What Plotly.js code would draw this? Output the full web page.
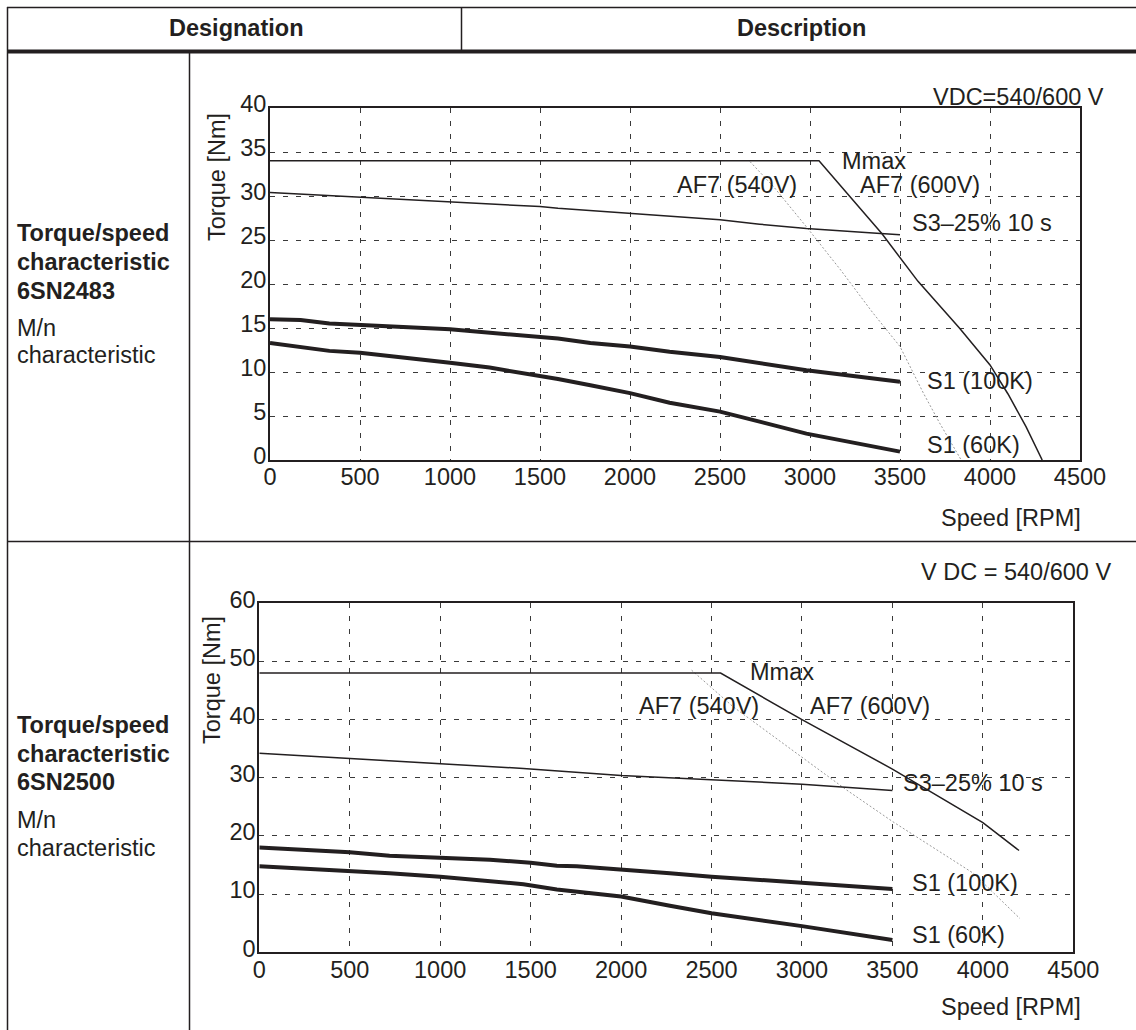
<!DOCTYPE html>
<html>
<head>
<meta charset="utf-8">
<script src="https://cdn.plot.ly/plotly-3.0.1.min.js"></script>
<style>
  html, body { margin: 0; padding: 0; background: #fff; }
  #chart { width: 1136px; height: 1030px; }
</style>
</head>
<body>
<div id="chart"></div>
<script>
// ---------- Data: 6SN2483 (top chart) ----------
const xTicks = [0, 500, 1000, 1500, 2000, 2500, 3000, 3500, 4000, 4500];

const c1_mmax_rpm    = [0, 3050, 3400, 3600, 3830, 4000, 4100, 4200, 4290];
const c1_mmax_torque = [34, 34, 25.7, 20.3, 15.0, 10.8, 7.5, 3.8, 0];

const c1_af540_rpm    = [2667, 2800, 2980, 3170, 3350, 3500, 3630, 3720, 3840];
const c1_af540_torque = [33.9, 31.0, 26.5, 21.6, 16.7, 12.9, 7.6, 4.2, 0];

const c1_s3_rpm    = [0, 500, 1000, 1300, 1500, 1600, 2000, 2220, 2500, 2720, 2980, 3350, 3500];
const c1_s3_torque = [30.4, 29.85, 29.35, 29.0, 28.8, 28.6, 28.0, 27.65, 27.3, 26.8, 26.3, 25.8, 25.6];

const c1_s1_100_rpm    = [0, 170, 330, 500, 740, 1000, 1220, 1500, 1600, 1780, 2000, 2220, 2500, 2980, 3500];
const c1_s1_100_torque = [16.0, 15.9, 15.5, 15.3, 15.1, 14.85, 14.5, 14.0, 13.8, 13.3, 12.9, 12.3, 11.7, 10.2, 8.9];

const c1_s1_60_rpm    = [0, 330, 500, 740, 1000, 1220, 1400, 1500, 1600, 1780, 2000, 2220, 2500, 2980, 3500];
const c1_s1_60_torque = [13.3, 12.4, 12.2, 11.7, 11.05, 10.5, 9.9, 9.5, 9.2, 8.5, 7.6, 6.5, 5.5, 3.0, 0.95];

// ---------- Data: 6SN2500 (bottom chart) ----------
const c2_mmax_rpm    = [0, 2550, 3000, 3500, 4000, 4200];
const c2_mmax_torque = [48, 48, 40, 31.5, 22.3, 17.5];

const c2_af540_rpm    = [2390, 2620, 3247, 3500, 3947, 4205];
const c2_af540_torque = [48.5, 42.2, 27.9, 22.5, 13.6, 5.8];

const c2_s3_rpm    = [0, 500, 1000, 1460, 2000, 2500, 3000, 3500];
const c2_s3_torque = [34.2, 33.3, 32.3, 31.6, 30.4, 29.6, 28.9, 27.8];

const c2_s1_100_rpm    = [0, 170, 500, 720, 1000, 1275, 1500, 1645, 1755, 2000, 2270, 2500, 3000, 3500];
const c2_s1_100_torque = [18.0, 17.7, 17.2, 16.6, 16.3, 15.9, 15.4, 14.9, 14.8, 14.3, 13.6, 13.0, 12.0, 10.9];

const c2_s1_60_rpm    = [0, 500, 720, 1000, 1275, 1460, 1645, 1830, 2000, 2270, 2500, 3000, 3500];
const c2_s1_60_torque = [14.8, 14.0, 13.6, 13.0, 12.15, 11.7, 10.8, 10.1, 9.6, 8.0, 6.7, 4.5, 2.1];

// ---------- Layout helpers ----------
const W = 1136, H = 1030;
const px = x => x / W;
const py = y => 1 - y / H;
const INK = '#231f20';
const FONT = 'Liberation Sans, Arial, Helvetica, sans-serif';
const FS = 23.5;

function line(x, y, xa, ya, width, dash, color) {
  return { x: x, y: y, xaxis: xa, yaxis: ya, mode: 'lines', type: 'scatter',
           line: { color: color || INK, width: width, dash: dash || 'solid' },
           hoverinfo: 'skip', showlegend: false };
}

const traces = [
  line(c1_af540_rpm, c1_af540_torque, 'x', 'y', 1, '2px,2px', '#9a9a9a'),
  line(c1_mmax_rpm, c1_mmax_torque, 'x', 'y', 1.5),
  line(c1_s3_rpm, c1_s3_torque, 'x', 'y', 1.5),
  line(c1_s1_100_rpm, c1_s1_100_torque, 'x', 'y', 4),
  line(c1_s1_60_rpm, c1_s1_60_torque, 'x', 'y', 4),
  line(c2_af540_rpm, c2_af540_torque, 'x2', 'y2', 1, '2px,2px', '#9a9a9a'),
  line(c2_mmax_rpm, c2_mmax_torque, 'x2', 'y2', 1.5),
  line(c2_s3_rpm, c2_s3_torque, 'x2', 'y2', 1.5),
  line(c2_s1_100_rpm, c2_s1_100_torque, 'x2', 'y2', 4),
  line(c2_s1_60_rpm, c2_s1_60_torque, 'x2', 'y2', 4)
];

function axis(range, dtick, domain, anchor, isY) {
  const a = {
    range: range, dtick: dtick, tick0: 0, domain: domain, anchor: anchor,
    autorange: false, fixedrange: true,
    showline: true, mirror: true, linecolor: INK, linewidth: 2,
    showgrid: true, gridcolor: '#3a3a3a', gridwidth: 1, griddash: '5px,8px',
    zeroline: false, ticks: '',
    tickfont: { family: FONT, size: FS, color: INK },
    ticklabelstandoff: isY ? -3 : -5
  };
  if (isY) a.ticklabelshift = -4;
  return a;
}

function hline(y, x0, x1, w) {
  return { type: 'line', xref: 'paper', yref: 'paper', x0: px(x0), x1: px(x1), y0: py(y), y1: py(y),
           line: { color: INK, width: w } };
}
function vline(x, y0, y1, w) {
  return { type: 'line', xref: 'paper', yref: 'paper', x0: px(x), x1: px(x), y0: py(y0), y1: py(y1),
           line: { color: INK, width: w } };
}

const shapes = [
  hline(7.5, 7, 1136, 1.5),
  vline(7.5, 7, 1030, 1.5),
  vline(461.5, 7, 52, 1.5),
  hline(51.5, 7, 1136, 4),
  vline(189.5, 52, 1030, 1.5),
  hline(541.5, 7, 1136, 1.5)
];

function txt(text, x, y, opts) {
  opts = opts || {};
  return Object.assign({
    text: text, xref: 'paper', yref: 'paper', x: px(x), y: py(y),
    xanchor: opts.xanchor || 'left', yanchor: 'middle', showarrow: false,
    font: { family: FONT, size: opts.size || FS, color: INK }
  }, opts.extra || {});
}

const annotations = [
  txt('<b>Designation</b>', 236, 28, { xanchor: 'center' }),
  txt('<b>Description</b>', 801, 28, { xanchor: 'center' }),

  // Row 1 left column
  txt('<b>Torque/speed</b>', 15, 233),
  txt('<b>characteristic</b>', 15, 262),
  txt('<b>6SN2483</b>', 15, 291),
  txt('M/n', 15, 328),
  txt('characteristic', 15, 355),

  // Row 2 left column
  txt('<b>Torque/speed</b>', 15, 725),
  txt('<b>characteristic</b>', 15, 754),
  txt('<b>6SN2500</b>', 15, 782),
  txt('M/n', 15, 820),
  txt('characteristic', 15, 848),

  // Chart 1 labels
  txt('VDC=540/600 V', 1106, 97, { xanchor: 'right' }),
  txt('Torque [Nm]', 217, 177, { xanchor: 'center', extra: { textangle: -90 } }),
  txt('Speed [RPM]', 1083, 518, { xanchor: 'right' }),
  txt('Mmax', 840, 161),
  txt('AF7 (540V)', 675, 185),
  txt('AF7 (600V)', 858, 185),
  txt('S3–25% 10 s', 910, 223),
  txt('S1 (100K)', 925, 381),
  txt('S1 (60K)', 925, 445),

  // Chart 2 labels
  txt('V DC = 540/600 V', 1113, 572, { xanchor: 'right' }),
  txt('Torque [Nm]', 212, 680, { xanchor: 'center', extra: { textangle: -90 } }),
  txt('Speed [RPM]', 1083, 1007, { xanchor: 'right' }),
  txt('Mmax', 748, 672),
  txt('AF7 (540V)', 637, 706),
  txt('AF7 (600V)', 808, 706),
  txt('S3–25% 10 s', 901, 783),
  txt('S1 (100K)', 910, 883),
  txt('S1 (60K)', 910, 935)
];

const layout = {
  width: W, height: H,
  margin: { l: 0, r: 0, t: 0, b: 0, pad: 0 },
  paper_bgcolor: '#ffffff', plot_bgcolor: '#ffffff',
  showlegend: false,
  font: { family: FONT, color: INK },
  xaxis:  Object.assign(axis([0, 4500], 500, [px(270), px(1080)], 'y', false), { tickvals: xTicks }),
  yaxis:  axis([0, 40], 5, [py(460), py(108)], 'x', true),
  xaxis2: Object.assign(axis([0, 4500], 500, [px(259.3), px(1073.3)], 'y2', false), { tickvals: xTicks }),
  yaxis2: axis([0, 60], 10, [py(952.3), py(603.3)], 'x2', true),
  shapes: shapes,
  annotations: annotations
};

Plotly.newPlot('chart', traces, layout, { staticPlot: true, displayModeBar: false });
</script>
</body>
</html>
